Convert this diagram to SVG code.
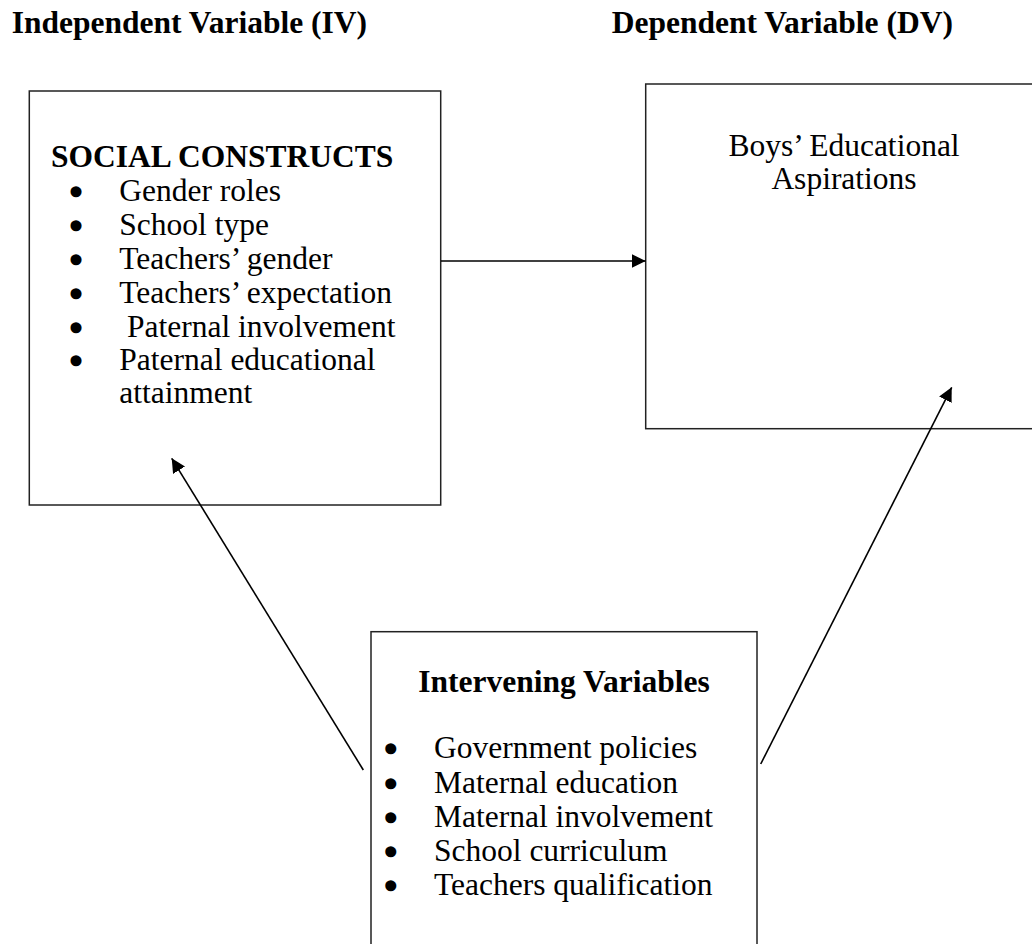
<svg xmlns="http://www.w3.org/2000/svg" width="1032" height="944" viewBox="0 0 1032 944">
<style>
.box{fill:#fff;stroke:#222;stroke-width:1.5}
.t{font-family:"Liberation Serif","Times New Roman",serif;font-size:31.5px;fill:#000}
.b{font-weight:bold}
.m{text-anchor:middle}
.bl{font-family:"Liberation Serif","Times New Roman",serif;font-size:31.5px;fill:#000;stroke:#000;stroke-width:3.5;stroke-linejoin:round;text-anchor:middle}
.conn{stroke:#000;stroke-width:1.6;fill:none;marker-end:url(#ah)}
</style>
<defs>
<marker id="ah" markerUnits="userSpaceOnUse" markerWidth="15" markerHeight="14" refX="14" refY="7" orient="auto">
<path d="M0,0 L14,7 L0,14 Z" fill="#000"/>
</marker>
</defs>
<rect width="1032" height="944" fill="#fff"/>
<g id="headers">
<text class="t b" x="11.7" y="33">Independent Variable (IV)</text>
<text class="t b" x="611.7" y="33">Dependent Variable (DV)</text>
</g>
<g id="iv-social-constructs">
<rect class="box" x="29.3" y="91" width="411.4" height="414"/>
<text class="t b" x="51" y="167">SOCIAL CONSTRUCTS</text>
<text class="bl" x="76" y="202.7">•</text><text class="t" x="119.3" y="200.7">Gender roles</text>
<text class="bl" x="76" y="237">•</text><text class="t" x="119.3" y="235">School type</text>
<text class="bl" x="76" y="271.3">•</text><text class="t" x="119.3" y="269.3">Teachers’ gender</text>
<text class="bl" x="76" y="304.7">•</text><text class="t" x="119.3" y="302.7">Teachers’ expectation</text>
<text class="bl" x="76" y="338.7">•</text><text class="t" x="127" y="336.7">Paternal involvement</text>
<text class="bl" x="76" y="372">•</text><text class="t" x="119.3" y="370">Paternal educational</text>
<text class="t" x="119.3" y="403.3">attainment</text>
</g>
<g id="dv-aspirations">
<rect class="box" x="645.7" y="84" width="400" height="344.7"/>
<text class="t m" x="844" y="156">Boys’ Educational</text>
<text class="t m" x="844" y="189.3">Aspirations</text>
</g>
<g id="intervening-variables">
<rect class="box" x="371" y="631.7" width="386" height="330"/>
<text class="t b m" x="564" y="691.7">Intervening Variables</text>
<text class="bl" x="390.7" y="760.3">•</text><text class="t" x="434" y="758.3">Government policies</text>
<text class="bl" x="390.7" y="794.7">•</text><text class="t" x="434" y="792.7">Maternal education</text>
<text class="bl" x="390.7" y="828.7">•</text><text class="t" x="434" y="826.7">Maternal involvement</text>
<text class="bl" x="390.7" y="862.7">•</text><text class="t" x="434" y="860.7">School curriculum</text>
<text class="bl" x="390.7" y="897">•</text><text class="t" x="434" y="895">Teachers qualification</text>
</g>
<g id="connectors">
<line class="conn" x1="441" y1="261" x2="645.7" y2="261"/>
<line class="conn" x1="363.3" y1="770" x2="171.7" y2="458.3"/>
<line class="conn" x1="760.7" y1="764" x2="951.7" y2="387.3"/>
</g>
</svg>
